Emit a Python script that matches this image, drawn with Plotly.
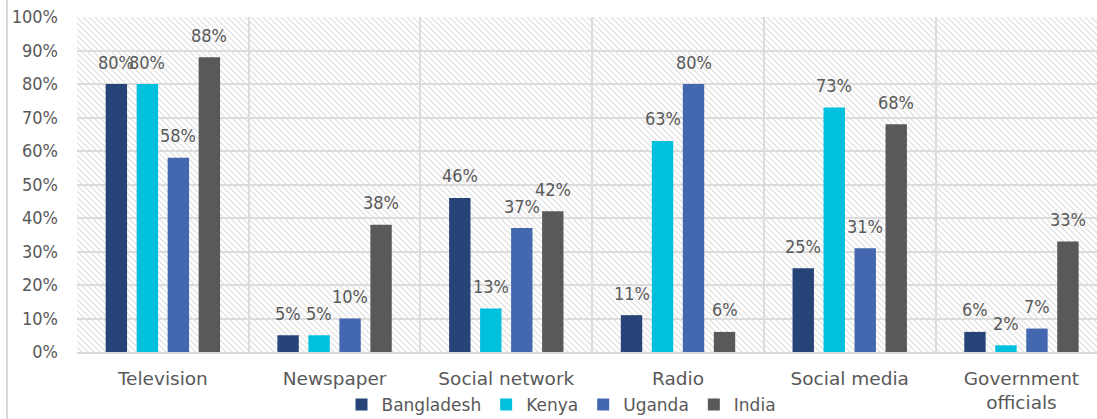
import base64
import plotly.graph_objects as go

# Information sources by country (share of respondents)
categories = ["Television", "Newspaper", "Social network", "Radio",
              "Social media", "Government<br>officials"]
bangladesh = [0.80, 0.05, 0.46, 0.11, 0.25, 0.06]
kenya = [0.80, 0.05, 0.13, 0.63, 0.73, 0.02]
uganda = [0.58, 0.10, 0.37, 0.80, 0.31, 0.07]
india = [0.88, 0.38, 0.42, 0.06, 0.68, 0.33]

series = [
    ("Bangladesh", bangladesh, "#264478"),
    ("Kenya", kenya, "#00C0DE"),
    ("Uganda", uganda, "#4468B0"),
    ("India", india, "#58595B"),
]

W, H = 1097, 419
ML, MR, MT, MB = 77, 0, 17, 67
PW, PH = W - ML - MR, H - MT - MB

TEXT = "#595959"
NUM_FONT = "DejaVu Sans Condensed, DejaVu Sans"
TXT_FONT = "DejaVu Sans"

BARGAP = 0.278
GROUPGAP = 0.31
X_RANGE = [-0.5, 5.44]
unit_px = PW / (X_RANGE[1] - X_RANGE[0])
pitch = unit_px * (1 - BARGAP) / len(series)

# diagonal hatch for the plotting area
svg = f'''<svg xmlns="http://www.w3.org/2000/svg" width="{PW}" height="{PH}">
<defs><pattern id="h" patternUnits="userSpaceOnUse" width="6" height="6">
<path d="M-1,-1 L7,7 M-1,5 L1,7 M5,-1 L7,1" stroke="#e2e2e2" stroke-width="1.3"/>
</pattern></defs>
<rect width="{PW}" height="{PH}" fill="#ffffff"/>
<rect width="{PW}" height="{PH}" fill="url(#h)"/>
</svg>'''
hatch = "data:image/svg+xml;base64," + base64.b64encode(svg.encode()).decode()

fig = go.Figure()
annotations = []
for i, (name, vals, color) in enumerate(series):
    fig.add_trace(go.Bar(
        name=name, x=categories, y=vals,
        marker=dict(color=color, line=dict(width=0)),
    ))
    for cat, v in zip(categories, vals):
        annotations.append(dict(
            x=cat, y=v, xref="x", yref="y",
            text=f"{round(v * 100)}%", showarrow=False,
            xshift=(i - 1.5) * pitch, yshift=22, yanchor="middle",
            font=dict(family=NUM_FONT, size=18, color=TEXT),
        ))

fig.update_layout(
    width=W, height=H,
    margin=dict(l=ML, r=MR, t=MT, b=MB, autoexpand=False),
    paper_bgcolor="white", plot_bgcolor="rgba(0,0,0,0)",
    barmode="group", bargap=BARGAP, bargroupgap=GROUPGAP,
    showlegend=True,
    legend=dict(orientation="h", x=0.475, xanchor="center",
                y=-0.158, yanchor="middle", bgcolor="rgba(0,0,0,0)",
                font=dict(family=TXT_FONT, size=17, color=TEXT),
                itemwidth=30, tracegroupgap=0),
    annotations=annotations,
    images=[dict(source=hatch, xref="paper", yref="paper", x=0, y=1,
                 sizex=1, sizey=1, xanchor="left", yanchor="top",
                 sizing="stretch", layer="below")],
    shapes=[dict(type="line", xref="paper", yref="paper",
                 x0=-(ML - 7) / PW, x1=-(ML - 7) / PW,
                 y0=-MB / PH, y1=1 + MT / PH,
                 line=dict(color="#d9d9d9", width=2))],
)
fig.update_xaxes(
    range=X_RANGE, tickson="boundaries", showgrid=True,
    gridcolor="#dcdcdc", gridwidth=1.5,
    showline=True, linecolor="#d9d9d9", linewidth=2,
    ticks="", ticklabelstandoff=9, automargin=False,
    tickfont=dict(family=TXT_FONT, size=18.5, color=TEXT),
)
fig.update_yaxes(
    range=[0, 1], dtick=0.1, tickformat=".0%",
    showgrid=True, gridcolor="#dcdcdc", gridwidth=1.5,
    zeroline=False, ticks="", ticklabelstandoff=18, automargin=False,
    tickfont=dict(family=NUM_FONT, size=18, color=TEXT),
)

fig.write_html("out.html")
